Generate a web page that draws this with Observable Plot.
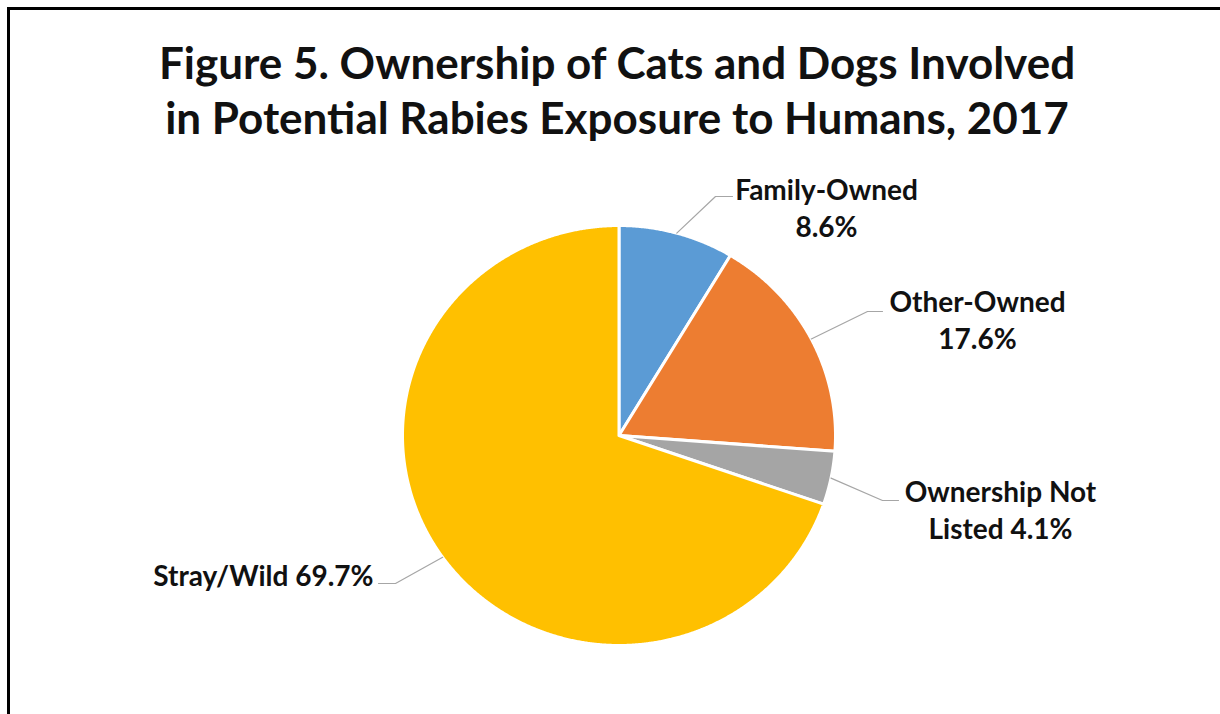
<!DOCTYPE html>
<html>
<head>
<meta charset="utf-8">
<script src="https://cdn.jsdelivr.net/npm/d3@7"></script>
<script src="https://cdn.jsdelivr.net/npm/@observablehq/plot@0.6"></script>
<style>
  html, body { margin: 0; padding: 0; background: #fff; }
  body { width: 1220px; height: 714px; overflow: hidden; position: relative; font-family: Lato, "Open Sans", sans-serif; }
  #frame { position: absolute; left: 7px; top: 7px; width: 1400px; height: 900px; border: 3px solid #000; box-shadow: 0 1px 0 #bbb; }
  #title { position: absolute; left: 0; width: 1234px; top: 35px; text-align: center; font-weight: 700; font-size: 44px; line-height: 55px; color: #111; }
  #chart { position: absolute; left: 0; top: 160px; }
</style>
</head>
<body>
<div id="frame"></div>
<div id="title">Figure 5. Ownership of Cats and Dogs Involved<br>in Potential Rabies Exposure to Humans, 2017</div>
<div id="chart"></div>
<script>
// ---- data ----
const categories = ["Family-Owned", "Other-Owned", "Ownership Not Listed", "Stray/Wild"];
const percents = [8.6, 17.6, 4.1, 69.7];
const colors = ["#5B9BD5", "#ED7D31", "#A5A5A5", "#FFC000"];
const labelTexts = ["Family-Owned\n8.6%", "Other-Owned\n17.6%", "Ownership Not\nListed 4.1%", "Stray/Wild 69.7%"];

// ---- layout (pixel offsets from pie centre, y down) ----
const RX = 216.5, RY = 210;
const labelLayout = [
  {dx: 207.5, dy: -228.5, anchor: "middle", elbow: [96.5, -239], end: [113.5, -239]},
  {dx: 358.5, dy: -116.5, anchor: "middle", elbow: [248.5, -124], end: [263.5, -124]},
  {dx: 381.5, dy: 73, anchor: "middle", elbow: [263.5, 65], end: [279.5, 65]},
  {dx: -245.5, dy: 139, anchor: "end", elbow: [-223.5, 148], end: [-240.5, 148]}
];
const px = ([dx, dy]) => ({x: dx / RX, y: -dy / RY});

const table = categories.map((name, i) => ({name, pct: percents[i], color: colors[i], label: labelTexts[i], layout: labelLayout[i]}));
const arcs = d3.pie().sort(null).value(d => d.pct)(table);

const marks = [];
arcs.forEach(a => {
  const pts = [{x: 0, y: 0}];
  const n = Math.max(8, Math.ceil((a.endAngle - a.startAngle) / 0.005));
  for (let k = 0; k <= n; k++) {
    const t = a.startAngle + (a.endAngle - a.startAngle) * k / n;
    pts.push({x: Math.sin(t), y: Math.cos(t)});
  }
  pts.push({x: 0, y: 0});
  marks.push(Plot.line(pts, {x: "x", y: "y", fill: a.data.color, stroke: "#fff", strokeWidth: 3, strokeLinejoin: "round"}));
});

// leader lines
arcs.forEach(a => {
  const m = (a.startAngle + a.endAngle) / 2;
  const L = a.data.layout;
  const pts = [{x: Math.sin(m), y: Math.cos(m)}, px(L.elbow), px(L.end)];
  marks.push(Plot.line(pts, {x: "x", y: "y", stroke: "#a6a6a6", strokeWidth: 1.2}));
});

// labels
const labelData = arcs.map(a => ({...px([a.data.layout.dx, a.data.layout.dy]), text: a.data.label, anchor: a.data.layout.anchor}));
["middle", "end"].forEach(anc => {
  marks.push(Plot.text(labelData.filter(d => d.anchor === anc), {
    x: "x", y: "y", text: "text", textAnchor: anc, lineAnchor: "middle", lineHeight: 1.32,
    fontSize: 28, fontWeight: 700, fill: "#111", fontFamily: "Lato, 'Open Sans', sans-serif"
  }));
});

const chart = Plot.plot({
  width: 1220, height: 554,
  marginLeft: 402, marginRight: 385, marginTop: 65, marginBottom: 69,
  x: {domain: [-1, 1], axis: null},
  y: {domain: [-1, 1], axis: null},
  style: {background: "transparent", overflow: "visible"},
  marks
});
document.getElementById("chart").appendChild(chart);
</script>
</body>
</html>
